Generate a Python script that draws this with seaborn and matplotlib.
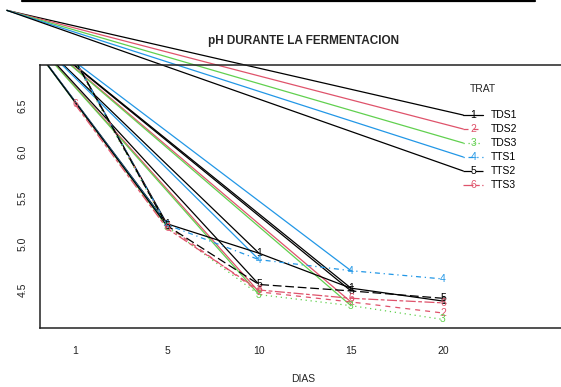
import matplotlib
matplotlib.use("Agg")
import matplotlib.pyplot as plt
import seaborn as sns
import pandas as pd
from matplotlib.lines import Line2D

# ---------------- data ----------------
dias = ["1", "5", "10", "15", "20"]
trat = ["TDS1", "TDS2", "TDS3", "TTS1", "TTS2", "TTS3"]
codes = ["1", "2", "3", "4", "5", "6"]
ph_TDS1 = [7.00, 5.22, 4.90, 4.52, 4.38]
ph_TDS2 = [7.00, 5.20, 4.48, 4.37, 4.25]
ph_TDS3 = [6.98, 5.19, 4.45, 4.33, 4.18]
ph_TTS1 = [7.00, 5.21, 4.83, 4.71, 4.62]
ph_TTS2 = [7.00, 5.20, 4.56, 4.49, 4.41]
ph_TTS3 = [6.52, 5.17, 4.50, 4.41, 4.36]
series = [ph_TDS1, ph_TDS2, ph_TDS3, ph_TTS1, ph_TTS2, ph_TTS3]

# ---------------- style ----------------
sns.set_style("white")
plt.rcParams["font.family"] = ["Liberation Sans", "DejaVu Sans"]

colors = ["black", "#DF536B", "#61D04F", "#2297E6", "black", "#DF536B"]
dash_specs = ["", (4, 4), (1, 3), (1, 3, 4, 3), (7, 3), (8, 2, 3, 2)]
palette = dict(zip(trat, colors))
dashes = dict(zip(trat, dash_specs))

pos = list(range(1, len(dias) + 1))
rows = []
for t, vals in zip(trat, series):
    for p, v in zip(pos, vals):
        rows.append({"pos": p, "ph": v, "TRAT": t})
df = pd.DataFrame(rows)

W, H = 561, 387
fig = plt.figure(figsize=(W / 100, H / 100), dpi=100)
ax = fig.add_axes([40 / W, (H - 328) / H, 526 / W, 263 / H])

XMIN, XMAX = 0.62, 6.337
YMIN, YMAX = 4.087, 6.946
ax.set_xlim(XMIN, XMAX)
ax.set_ylim(YMIN, YMAX)

LW = 0.9
# origin point where the stray segments meet (outside the plot, upper left)
P0_X, P0_Y = 0.26, 7.54

# stray solid segments running into the day 5 / 10 / 15 points
for k in (1, 2, 3):
    for i in range(5):
        ax.plot([P0_X, pos[k]], [P0_Y, series[i][k]], color=colors[i],
                lw=LW, solid_capstyle="butt", clip_on=True, zorder=2)

# main interaction lines
sns.lineplot(data=df, x="pos", y="ph", hue="TRAT", style="TRAT",
             palette=palette, dashes=dashes, legend=False, ax=ax,
             linewidth=LW, sort=False, estimator=None, zorder=3)

for i, vals in enumerate(series):
    for p, v in zip(pos, vals):
        ax.text(p, v, codes[i], color=colors[i], fontsize=7.5,
                ha="center", va="center", clip_on=True, zorder=4)

# ---------------- legend (manual, R style) ----------------
LEG_X0, LEG_X1, LEG_XS, LEG_XT = 5.22, 5.43, 5.33, 5.52
leg_y = [6.402 - 0.152 * j for j in range(len(trat))]
for i in range(len(trat)):
    if i < 5:
        ax.plot([P0_X, LEG_X0], [P0_Y, leg_y[i]], color=colors[i], lw=LW,
                clip_on=False, zorder=2)
    ln = Line2D([LEG_X0, LEG_X1], [leg_y[i], leg_y[i]], color=colors[i], lw=LW)
    if dash_specs[i]:
        ln.set_dashes(dash_specs[i])
    ln.set_clip_on(False)
    ax.add_line(ln)
    ax.text(LEG_XS, leg_y[i], codes[i], color=colors[i], fontsize=7.5,
            ha="center", va="center", clip_on=False)
    ax.text(LEG_XT, leg_y[i], trat[i], color="black", fontsize=7.5,
            ha="left", va="center", clip_on=False)
ax.text(5.29, 6.684, "TRAT", fontsize=7.5, ha="left", va="center", clip_on=False)

# ---------------- axes ----------------
ax.set_xticks(pos)
ax.set_xticklabels(dias)
ax.set_yticks([4.5, 5.0, 5.5, 6.0, 6.5])
ax.set_yticklabels(["4.5", "5.0", "5.5", "6.0", "6.5"])
ax.tick_params(axis="x", length=0, pad=13, labelsize=7.5, colors="#222222")
ax.tick_params(axis="y", length=4, width=0.8, pad=5, labelsize=7.5,
               labelrotation=90, colors="#222222")
for lbl in ax.get_yticklabels():
    lbl.set_va("center")
ax.set_xlabel("DIAS", fontsize=7.5, labelpad=13)
ax.set_ylabel("")
ax.set_title("pH DURANTE LA FERMENTACION", fontsize=8.5, fontweight="bold",
             pad=15)

for s in ("top", "bottom", "left"):
    ax.spines[s].set_visible(True)
    ax.spines[s].set_color("#222222")
    ax.spines[s].set_linewidth(1.1)
ax.spines["right"].set_visible(False)

# stray line at the very top of the figure
fig.add_artist(Line2D([22 / W, 535 / W], [1 - 1.0 / H, 1 - 1.0 / H],
                      transform=fig.transFigure, color="black", lw=1.6))

fig.savefig("out.png", dpi=100)
